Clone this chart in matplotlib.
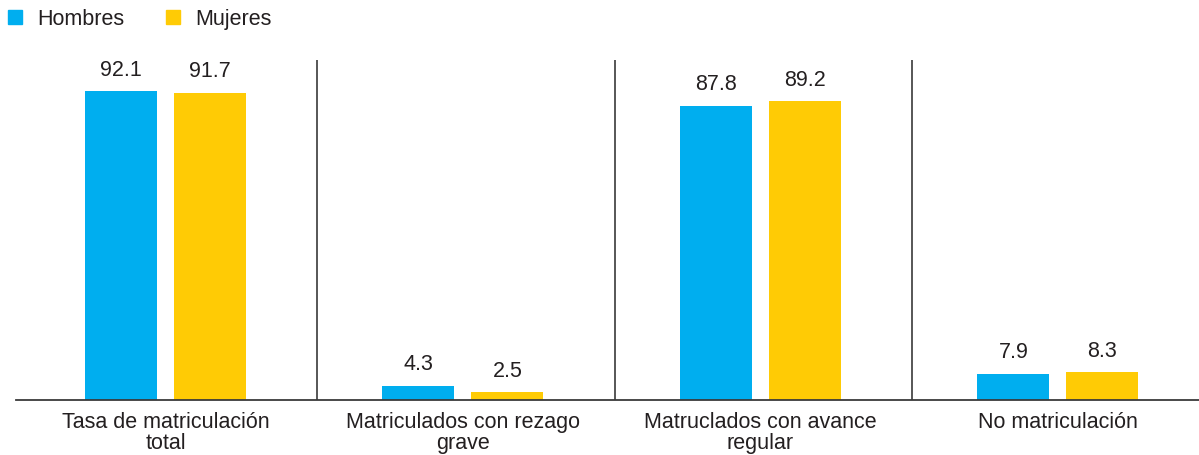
import numpy as np
import matplotlib
matplotlib.use("Agg")
import matplotlib.pyplot as plt
from matplotlib.patches import Patch

plt.rcParams['font.family'] = ['Liberation Sans', 'DejaVu Sans']

categorias = ["Tasa de matriculación\ntotal",
              "Matriculados con rezago\ngrave",
              "Matruclados con avance\nregular",
              "No matriculación"]
hombres = [92.1, 4.3, 87.8, 7.9]
mujeres = [91.7, 2.5, 89.2, 8.3]

AZUL = "#00AEEF"
AMARILLO = "#FFCB05"
TEXTO = "#231F20"
FS = 15.5

W, H = 1199, 456
fig = plt.figure(figsize=(W / 100, H / 100), dpi=100)
# eje: base en y=401 px, tope en y=61 px
ax = fig.add_axes([16 / W, (H - 401) / H, (W - 16) / W, 340 / H])

x = np.arange(len(categorias))
ancho = 0.242
desp = 0.1496
b1 = ax.bar(x - desp, hombres, ancho, color=AZUL)
b2 = ax.bar(x + desp, mujeres, ancho, color=AMARILLO)

for barras in (b1, b2):
    for b in barras:
        ax.annotate(f"{b.get_height():.1f}",
                    (b.get_x() + b.get_width() / 2, b.get_height()),
                    xytext=(0, 8), textcoords="offset points",
                    ha="center", va="bottom", fontsize=FS, color=TEXTO)

for i in range(len(categorias) - 1):
    ax.axvline(i + 0.51, color="#3a3a3a", lw=1.2)

ax.set_xlim(-0.5025, 3.474)
ax.set_ylim(0, 101.4)
ax.set_xticks(x)
ax.set_xticklabels(categorias, fontsize=FS, color=TEXTO, linespacing=0.98)
ax.tick_params(axis="x", length=0, pad=8)
ax.set_yticks([])
for s in ("top", "right", "left"):
    ax.spines[s].set_visible(False)
ax.spines["bottom"].set_color("#3a3a3a")
ax.spines["bottom"].set_linewidth(1.3)

handles = [Patch(color=AZUL, label="Hombres"), Patch(color=AMARILLO, label="Mujeres")]
fig.legend(handles=handles, loc="upper left", bbox_to_anchor=(-0.0095, 1.022),
           ncol=2, frameon=False, fontsize=FS, handlelength=0.65,
           handleheight=0.65, handletextpad=0.7, columnspacing=1.95,
           labelcolor=TEXTO)

fig.savefig("out.png", dpi=100)
